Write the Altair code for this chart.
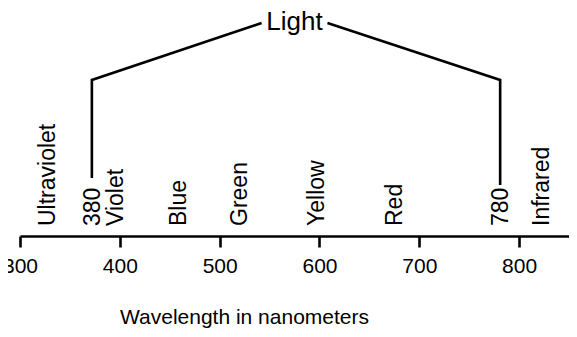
import altair as alt
import pandas as pd

# Axis ticks (wavelength, nm)
tick_values = [300, 400, 500, 600, 700, 800]

# Rotated band labels and their wavelength positions (nm)
band_labels = ["Ultraviolet", "380", "Violet", "Blue", "Green", "Yellow", "Red", "780", "Infrared"]
band_x = [328, 373, 396, 459, 520, 598, 676, 782, 823]
band_y = [10, 10, 10, 10, 10, 10, 10, 10, 10]

# "Light" bracket path (x in nm, y in height units above the axis)
bracket_side = ["left", "left", "left", "right", "right", "right"]
bracket_order = [0, 1, 2, 0, 1, 2]
bracket_x = [372, 372, 542, 608, 781, 781]
bracket_y = [58, 156, 213, 213, 156, 51]

# Bracket caption
light_text = ["Light"]
light_x = [575]
light_y = [214]

FONT = "Liberation Sans"

bands = pd.DataFrame({"label": band_labels, "x": band_x, "y": band_y})
bracket = pd.DataFrame({"side": bracket_side, "order": bracket_order, "x": bracket_x, "y": bracket_y})
light = pd.DataFrame({"label": light_text, "x": light_x, "y": light_y})

xscale = alt.Scale(domain=[300, 870], range=[12, 581])
yscale = alt.Scale(domain=[0, 228])

xaxis = alt.Axis(
    values=tick_values,
    title="Wavelength in nanometers",
    grid=False,
    domainColor="black",
    domainWidth=2.6,
    tickColor="black",
    tickWidth=2.6,
    tickSize=11,
    labelFont=FONT,
    labelFontSize=21,
    labelColor="black",
    labelPadding=8,
    labelFlush=False,
    titleFont=FONT,
    titleFontSize=21,
    titleFontWeight="normal",
    titleColor="black",
    titleX=236,
    titleY=87,
    titleBaseline="alphabetic",
)

band_layer = alt.Chart(bands).mark_text(
    angle=270, align="left", baseline="middle", font=FONT, fontSize=23, color="black"
).encode(
    x=alt.X("x:Q", scale=xscale, axis=xaxis),
    y=alt.Y("y:Q", scale=yscale, axis=None),
    text="label:N",
)

bracket_layer = alt.Chart(bracket).mark_line(color="black", strokeWidth=2.6).encode(
    x=alt.X("x:Q", scale=xscale, axis=xaxis),
    y=alt.Y("y:Q", scale=yscale, axis=None),
    detail="side:N",
    order="order:Q",
)

light_layer = alt.Chart(light).mark_text(
    align="center", baseline="middle", font=FONT, fontSize=26, color="black"
).encode(
    x=alt.X("x:Q", scale=xscale, axis=xaxis),
    y=alt.Y("y:Q", scale=yscale, axis=None),
    text="label:N",
)

chart = alt.layer(band_layer, bracket_layer, light_layer).properties(
    width=561,
    height=228,
    autosize=alt.AutoSizeParams(type="none"),
    padding={"left": 0, "top": 0, "right": 0, "bottom": 92},
).configure_view(stroke=None)

chart.save("out.html", embed_options={"renderer": "svg", "actions": False})
